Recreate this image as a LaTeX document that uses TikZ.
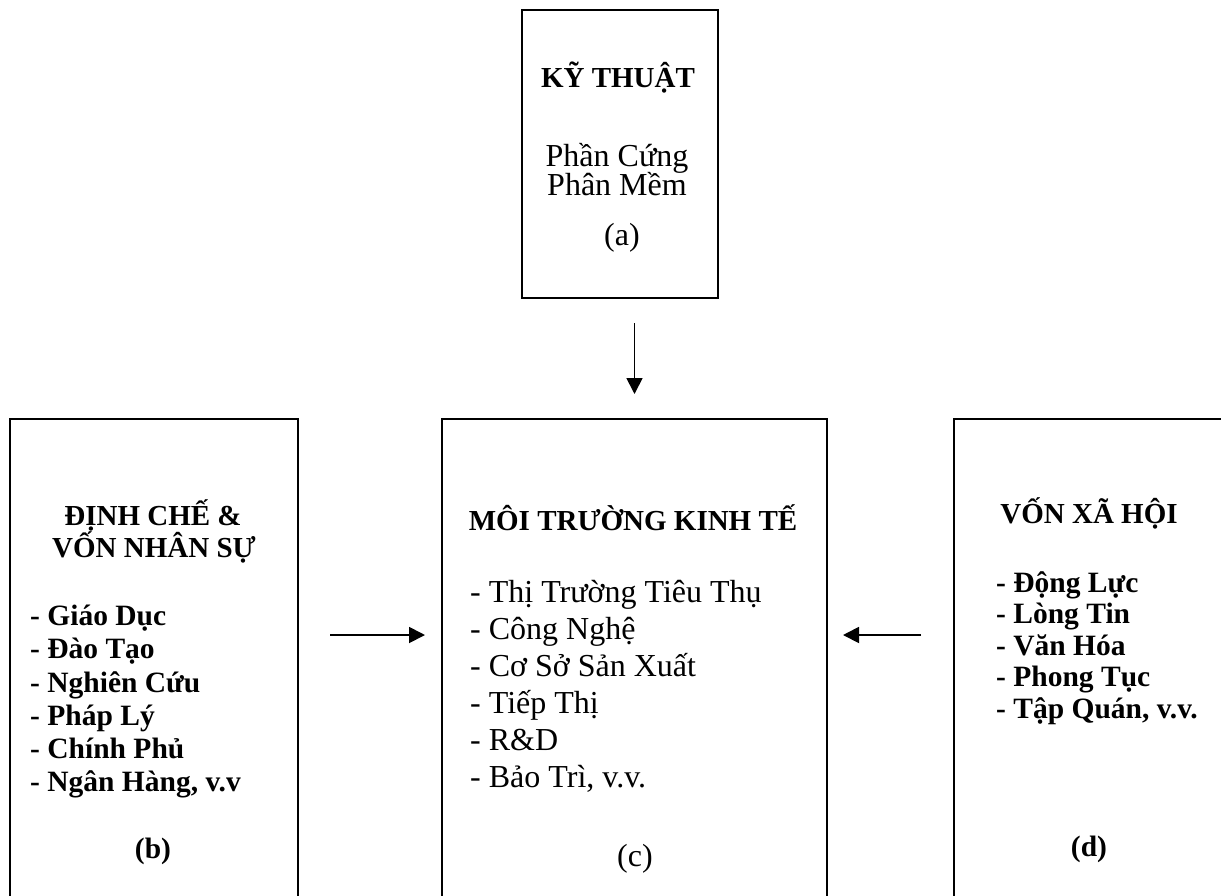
\documentclass[tikz,border=0pt]{standalone}
\usepackage{fontspec}
\setmainfont{Liberation Serif}
\usetikzlibrary{arrows.meta}

\tikzset{
  box/.style={draw, line width=2pt, inner sep=0pt},
  head/.style={font=\fontsize{29}{29}\selectfont\bfseries, inner sep=0pt},
  body/.style={font=\fontsize{32}{32}\selectfont, inner sep=0pt},
  bodybf/.style={font=\fontsize{29.5}{29.5}\selectfont\bfseries, inner sep=0pt},
  link/.style={->, line width=1.8pt},
  >={Triangle[length=16pt,width=16pt]}
}

\begin{document}
\begin{tikzpicture}[x=1pt, y=-1pt]
  \clip (0,0) rectangle (1221,895);

  % the four boxes (the lower ones run off the page)
  \node[box, minimum width=196pt, minimum height=288pt] (a) at (620,154) {};
  \node[box, minimum width=288pt, minimum height=600pt] (b) at (154,719) {};
  \node[box, minimum width=385pt, minimum height=600pt] (c) at (634.5,719) {};
  \node[box, minimum width=346pt, minimum height=600pt] (d) at (1127,719) {};

  % (a)
  \node[head, anchor=base] (atitle) at (618,87) {KỸ THUẬT};
  \node[body, anchor=base] (a1) at (617,166) {Phần Cứng};
  \node[body, anchor=base] (a2) at (617,195) {Phân Mềm};
  \node[body, anchor=base] (alabel) at (622,245) {(a)};

  % (b)
  \node[head, anchor=base] (btitle1) at (153,525) {ĐỊNH CHẾ \&};
  \node[head, anchor=base] (btitle2) at (154,557) {VỐN NHÂN SỰ};
  \foreach \T [count=\i] in {Giáo Dục, Đào Tạo, Nghiên Cứu, Pháp Lý, Chính Phủ, {Ngân Hàng, v.v}} {
    \node[bodybf, anchor=base west] (b\i) at (30, 592.5+33.2*\i) {- \T};
  }
  \node[bodybf, anchor=base] (blabel) at (153,858) {(b)};

  % (c)
  \node[head, anchor=base] (ctitle) at (633,530) {MÔI TRƯỜNG KINH TẾ};
  \foreach \T [count=\i] in {Thị Trường Tiêu Thụ, Công Nghệ, Cơ Sở Sản Xuất, Tiếp Thị, R\&D, {Bảo Trì, v.v.}} {
    \node[body, anchor=base west] (c\i) at (470, 565+37*\i) {- \T};
  }
  \node[body, anchor=base] (clabel) at (635,866) {(c)};

  % (d)
  \node[head, anchor=base] (dtitle) at (1089,523) {VỐN XÃ HỘI};
  \foreach \T [count=\i] in {Động Lực, Lòng Tin, Văn Hóa, Phong Tục, {Tập Quán, v.v.}} {
    \node[bodybf, anchor=base west] (d\i) at (996, 560.5+31.5*\i) {- \T};
  }
  \node[bodybf, anchor=base] (dlabel) at (1089,856) {(d)};

  % arrows into the middle box
  \coordinate (mid) at (0,635);
  \draw[link, shorten <=24pt, shorten >=24pt] (a.south -| c.north) -- (c.north);
  \draw[link, shorten <=31pt, shorten >=16pt] (b.east |- mid) -- (c.west |- mid);
  \draw[link, shorten <=32pt, shorten >=15pt] (d.west |- mid) -- (c.east |- mid);
\end{tikzpicture}
\end{document}
